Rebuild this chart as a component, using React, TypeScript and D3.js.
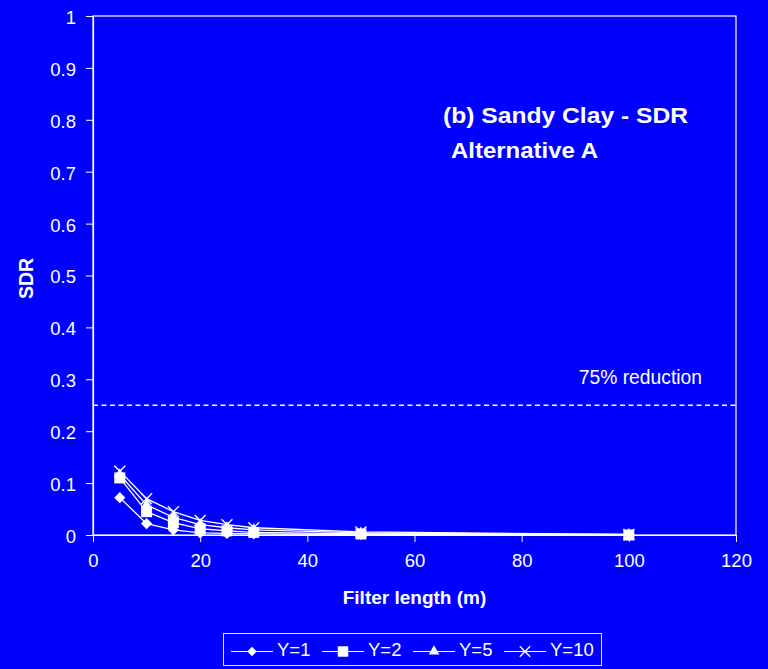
// App.tsx
import React, { useEffect, useRef } from 'react';
import * as d3 from 'd3';

// filter lengths (m) on the x axis
const filterLengths = [5, 10, 15, 20, 25, 30, 50, 100];

// SDR values per series
const sdrY1 = [0.072, 0.022, 0.010, 0.004, 0.003, 0.002, 0.001, 0.0];
const sdrY2 = [0.110, 0.045, 0.024, 0.012, 0.008, 0.005, 0.002, 0.0];
const sdrY5 = [0.116, 0.058, 0.034, 0.020, 0.014, 0.010, 0.004, 0.001];
const sdrY10 = [0.123, 0.070, 0.045, 0.028, 0.020, 0.014, 0.006, 0.001];

const seriesNames = ['Y=1', 'Y=2', 'Y=5', 'Y=10'];
const seriesValues = [sdrY1, sdrY2, sdrY5, sdrY10];

const xTicks = [0, 20, 40, 60, 80, 100, 120];
const yTicks = [0, 0.1, 0.2, 0.3, 0.4, 0.5, 0.6, 0.7, 0.8, 0.9, 1];

const reductionLevel = 0.25;
const reductionLabel = '75% reduction';
const titleLines = ['(b) Sandy Clay - SDR', 'Alternative A'];

const BLUE = '#0000ff';
const FONT = 'Arial, "Liberation Sans", Helvetica, sans-serif';

const App = () => {
  const d3Container = useRef<HTMLDivElement>(null);
  const width = 768;
  const height = 669;
  const plot = { left: 93, right: 736, top: 16, bottom: 535 };

  useEffect(() => {
    if (!d3Container.current) return;
    document.body.style.margin = '0';
    d3.select(d3Container.current).selectAll('*').remove();

    const svg = d3.select(d3Container.current)
      .append('svg')
      .attr('width', width)
      .attr('height', height)
      .style('display', 'block')
      .style('font-family', FONT);

    svg.append('rect')
      .attr('width', width)
      .attr('height', height)
      .attr('fill', BLUE);

    const xScale = d3.scaleLinear().domain([0, 120]).range([plot.left, plot.right]);
    const yScale = d3.scaleLinear().domain([0, 1]).range([plot.bottom, plot.top]);

    // plot frame
    svg.append('rect')
      .attr('x', plot.left)
      .attr('y', plot.top)
      .attr('width', plot.right - plot.left)
      .attr('height', plot.bottom - plot.top)
      .attr('fill', 'none')
      .attr('stroke', 'white')
      .attr('stroke-width', 1.2);

    // X axis
    const xAxis = svg.append('g')
      .attr('transform', `translate(0,${plot.bottom})`)
      .call(d3.axisBottom(xScale).tickValues(xTicks).tickSize(7).tickSizeOuter(0).tickPadding(12));
    xAxis.select('.domain').attr('stroke', 'white').attr('stroke-width', 1.2);
    xAxis.selectAll('.tick line').attr('stroke', 'white');
    xAxis.selectAll('.tick text')
      .attr('fill', 'white')
      .style('font-size', '18.5px')
      .style('font-family', FONT);

    // Y axis
    const yAxis = svg.append('g')
      .attr('transform', `translate(${plot.left},0)`)
      .call(d3.axisLeft(yScale).tickValues(yTicks).tickFormat(d3.format('~g')).tickSize(7).tickSizeOuter(0).tickPadding(10));
    yAxis.select('.domain').attr('stroke', 'white').attr('stroke-width', 1.2);
    yAxis.selectAll('.tick line').attr('stroke', 'white');
    yAxis.selectAll('.tick text')
      .attr('fill', 'white')
      .attr('dy', '0.4em')
      .style('font-size', '18.5px')
      .style('font-family', FONT);

    // axis titles
    svg.append('text')
      .attr('x', (plot.left + plot.right) / 2)
      .attr('y', 604)
      .attr('text-anchor', 'middle')
      .attr('fill', 'white')
      .style('font-size', '19px')
      .style('font-weight', 'bold')
      .text('Filter length (m)');

    svg.append('text')
      .attr('transform', `translate(33,${(plot.top + plot.bottom) / 2 + 3}) rotate(-90)`)
      .attr('text-anchor', 'middle')
      .attr('fill', 'white')
      .style('font-size', '19.5px')
      .style('font-weight', 'bold')
      .text('SDR');

    // chart title (the original is slightly wide, so stretch to its measured length)
    svg.append('text')
      .attr('x', 443)
      .attr('y', 123)
      .attr('fill', 'white')
      .attr('textLength', 245)
      .attr('lengthAdjust', 'spacingAndGlyphs')
      .style('font-size', '22px')
      .style('font-weight', 'bold')
      .text(titleLines[0]);
    svg.append('text')
      .attr('x', 451)
      .attr('y', 158)
      .attr('fill', 'white')
      .attr('textLength', 147)
      .attr('lengthAdjust', 'spacingAndGlyphs')
      .style('font-size', '22px')
      .style('font-weight', 'bold')
      .text(titleLines[1]);

    // 75% reduction line
    svg.append('line')
      .attr('x1', plot.left)
      .attr('x2', plot.right)
      .attr('y1', yScale(reductionLevel))
      .attr('y2', yScale(reductionLevel))
      .attr('stroke', 'white')
      .attr('stroke-width', 1.3)
      .attr('stroke-dasharray', '5,3.5');
    svg.append('text')
      .attr('x', 702)
      .attr('y', yScale(reductionLevel) - 21)
      .attr('text-anchor', 'end')
      .attr('fill', 'white')
      .style('font-size', '19.3px')
      .text(reductionLabel);

    // marker shapes
    const markerPath = (i: number, scale = 1) => {
      if (i === 0) return d3.symbol().type(d3.symbolSquare).size(62 * scale * scale)();
      if (i === 1) return d3.symbol().type(d3.symbolSquare).size(121 * scale * scale)();
      if (i === 2) return d3.symbol().type(d3.symbolTriangle).size(55 * scale * scale)();
      return d3.symbol().type(d3.symbolX).size(80 * scale * scale)();
    };
    const drawMarker = (g: any, i: number, x: number, y: number, scale = 1) => {
      const p = g.append('path')
        .attr('d', markerPath(i, scale))
        .attr('transform', `translate(${x},${y})${i === 0 ? ' rotate(45)' : ''}`);
      if (i === 3) {
        p.attr('fill', 'none').attr('stroke', 'white').attr('stroke-width', 1.4);
      } else {
        p.attr('fill', 'white');
      }
    };

    const line = d3.line<number>()
      .x((d, j) => xScale(filterLengths[j]))
      .y(d => yScale(d));

    seriesValues.forEach((vals, i) => {
      const g = svg.append('g').attr('class', `series-${i}`);
      g.append('path')
        .datum(vals)
        .attr('d', line)
        .attr('fill', 'none')
        .attr('stroke', 'white')
        .attr('stroke-width', 1.3);
      vals.forEach((v, j) => drawMarker(g, i, xScale(filterLengths[j]), yScale(v)));
    });

    // legend
    const legend = svg.append('g').attr('class', 'legend');
    legend.append('rect')
      .attr('x', 223.5)
      .attr('y', 633.5)
      .attr('width', 378)
      .attr('height', 32)
      .attr('fill', 'none')
      .attr('stroke', '#e0e0ff')
      .attr('stroke-width', 1);

    seriesNames.forEach((name, i) => {
      const x0 = 231 + i * 91;
      const ly = 651.5;
      legend.append('line')
        .attr('x1', x0)
        .attr('x2', x0 + 42)
        .attr('y1', ly)
        .attr('y2', ly)
        .attr('stroke', 'white')
        .attr('stroke-width', 1.2);
      drawMarker(legend, i, x0 + 21, ly, i === 0 ? 0.85 : 0.95);
      legend.append('text')
        .attr('x', x0 + 46)
        .attr('y', 656)
        .attr('fill', 'white')
        .style('font-size', '18.5px')
        .text(name);
    });
  }, []);

  return <div className="SandyClayChart" ref={d3Container} />;
};

export default App;
